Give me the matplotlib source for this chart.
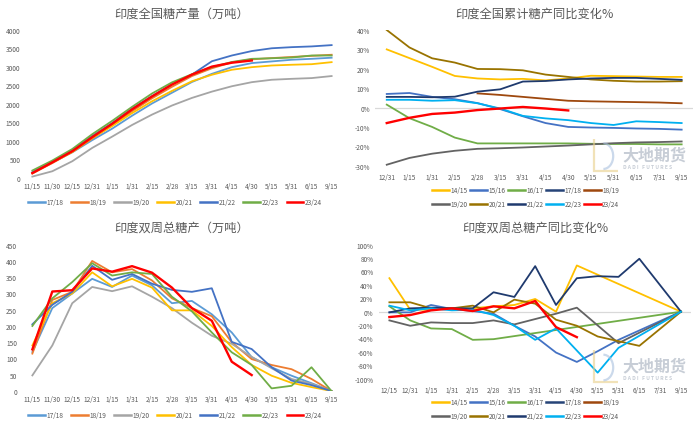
import numpy as np
import matplotlib
matplotlib.use('Agg')
import matplotlib.pyplot as plt
from matplotlib.ticker import FuncFormatter
from matplotlib.patches import Arc, Polygon

plt.rcParams['font.family'] = ['Noto Sans CJK SC', 'DejaVu Sans']

nan = np.nan

# ---- data: cumulative output (万吨) ----
cats_a = ['11/15', '11/30', '12/15', '12/31', '1/15', '1/31', '2/15', '2/28',
          '3/15', '3/31', '4/15', '4/30', '5/15', '5/31', '6/15', '9/15']
cum_17_18 = [150, 420, 690, 1020, 1330, 1680, 2010, 2300, 2590, 2810, 2990, 3100, 3145, 3190, 3215, 3245]
cum_18_19 = [120, 400, 700, 1060, 1420, 1800, 2150, 2460, 2750, 2960, 3120, 3200, 3235, 3265, 3295, 3325]
cum_19_20 = [36, 180, 450, 810, 1115, 1430, 1710, 1955, 2160, 2330, 2475, 2585, 2650, 2675, 2695, 2750]
cum_20_21 = [130, 420, 700, 1080, 1400, 1750, 2070, 2350, 2610, 2785, 2920, 2990, 3035, 3055, 3070, 3125]
cum_21_22 = [150, 430, 740, 1130, 1480, 1870, 2210, 2530, 2790, 3150, 3305, 3425, 3500, 3530, 3550, 3585]
cum_22_23 = [200, 470, 780, 1180, 1540, 1920, 2280, 2580, 2800, 2990, 3130, 3215, 3230, 3250, 3305, 3305]
cum_23_24 = [130, 420, 720, 1100, 1460, 1850, 2200, 2520, 2790, 3005, 3110, 3170]

# ---- data: cumulative YoY (%) ----
cats_b = ['12/31', '1/15', '1/31', '2/15', '2/28', '3/15', '3/31', '4/15', '4/30',
          '5/15', '5/31', '6/15', '7/31', '9/15']
yoy_14_15 = [30, 25.5, 21, 16.3, 15, 14.5, 14.8, 14, 15, 16.4, 16.2, 16, 15.8, 15.8]
yoy_15_16 = [7, 7.5, 5.5, 4.3, 2.3, -0.8, -4.5, -8, -10, -10.3, -10.5, -10.8, -11, -11.4]
yoy_16_17 = [1.5, -5.5, -10, -15.5, -18.5, -18.5, -18.5, -18.5, -18.5, -18.7, -18.8, -18.8, -19, -19]
yoy_17_18 = [nan] * 14
yoy_18_19 = [nan, nan, nan, nan, 7.3, 6.5, 5.5, 4.5, 3.5, 3.2, 3, 2.8, 2.6, 2.2]
yoy_19_20 = [-29.5, -26, -23.8, -22.3, -21.3, -21, -20.6, -20.1, -19.6, -19, -18.4, -18, -17.8, -17.5]
yoy_20_21 = [40, 31, 25.4, 23.2, 19.9, 19.8, 19.2, 17, 15.8, 14.5, 13.8, 13.4, 13.4, 13.6]
yoy_21_22 = [5.5, 5.5, 5.3, 5.6, 8.2, 9.4, 13.4, 13.7, 14.5, 15, 15.3, 15.3, 14.8, 14.3]
yoy_22_23 = [4, 4, 3.5, 3.8, 2.2, -0.5, -4.3, -5.6, -6.5, -8, -9, -7.1, -7.5, -8]
yoy_23_24 = [-8, -5.3, -3.3, -2.6, -1.3, -0.5, 0.3, -0.5, -1.5]

# ---- data: biweekly output (万吨) ----
bw_17_18 = [120, 255, 300, 345, 320, 355, 325, 270, 277, 236, 180, 104, 73, 47, 24, 0]
bw_18_19 = [115, 280, 305, 400, 365, 375, 340, 285, 255, 230, 150, 98, 80, 67, 37, 0]
bw_19_20 = [48, 140, 270, 320, 307, 322, 290, 255, 210, 170, 145, 105, 70, 37, 22, 0]
bw_20_21 = [140, 270, 300, 365, 322, 345, 318, 248, 248, 200, 135, 80, 47, 25, 12, 0]
bw_21_22 = [205, 265, 305, 385, 342, 360, 330, 311, 305, 316, 151, 129, 73, 32, 18, 0]
bw_22_23 = [200, 285, 335, 393, 355, 365, 360, 290, 245, 180, 119, 80, 8, 16, 73, 0]
bw_23_24 = [128, 306, 310, 377, 367, 384, 364, 318, 255, 216, 90, 49]

# ---- data: biweekly YoY (%) ----
cats_c = ['12/15', '12/31', '1/15', '1/31', '2/15', '2/28', '3/15', '3/31', '4/15',
          '4/30', '5/15', '5/31', '6/15', '7/31', '9/15']
bwy_14_15 = [50, 3, 3, 5, 5, 8, 10, 19, 0, 69, nan, nan, nan, nan, 0]
bwy_15_16 = [-1, -1, 10, 4, 1, -3, -21, -37, -61, -75, -59, -42, nan, nan, 0]
bwy_16_17 = [8, -13, -25, -26, -42, -41, nan, nan, nan, nan, nan, nan, nan, nan, 0]
bwy_17_18 = [nan] * 15
bwy_18_19 = [nan] * 15
bwy_19_20 = [-13, -21, -16, -17, -17, -13, -19, -11, -3, 6, nan, -47, nan, nan, 0]
bwy_20_21 = [14, 14, 5, 5, 9, -1, 18, 12, -12, -21, -37, -44, -51, nan, 0]
bwy_21_22 = [-1, 5, 6, 5, 5, 29, 22, 68, 10, 50, 53, 52, 79, nan, 0]
bwy_22_23 = [9, 2, 5, 2, 3, -5, -21, -42, -25, nan, -91, -54, nan, nan, 0]
bwy_23_24 = [-8, -5, 2, 5, 1, 8, 5, 16, -23, -38]

left_labels = ['17/18', '18/19', '19/20', '20/21', '21/22', '22/23', '23/24']
left_colors = ['#5B9BD5', '#ED7D31', '#A5A5A5', '#FFC000', '#4472C4', '#70AD47', '#FF0000']
right_labels = ['14/15', '15/16', '16/17', '17/18', '18/19',
                '19/20', '20/21', '21/22', '22/23', '23/24']
right_colors = ['#FFC000', '#4472C4', '#70AD47', '#264478', '#9E480E',
                '#636363', '#997300', '#1F3A6E', '#00B0F0', '#FF0000']

txt = '#595959'
fig = plt.figure(figsize=(7, 4.27), dpi=100)


def style(ax, cats, title, title_y, pad_y, pad_x):
    for s in ax.spines.values():
        s.set_visible(False)
    ax.set_xticks(range(len(cats)))
    ax.set_xticklabels(cats)
    ax.set_xlim(-0.5, len(cats) - 0.5)
    ax.tick_params(axis='both', length=0, labelsize=4.7, labelcolor=txt)
    ax.tick_params(axis='x', pad=pad_x)
    ax.tick_params(axis='y', pad=pad_y)
    bb = ax.get_position()
    fig.text((bb.x0 + bb.x1) / 2, title_y, title, ha='center', va='center',
             fontsize=8.8, color=txt)


def draw(ax, series, colors, labels):
    for vals, c, lab in zip(series, colors, labels):
        y = np.array(vals, dtype=float)
        x = np.arange(len(y))
        m = np.isfinite(y)
        lw = 1.7 if c == '#FF0000' else 1.3
        ax.plot(x[m], y[m], color=c, lw=lw, label=lab)


def legend(ax, ncol, nrow, xc, yc, colsp, lsp=0.9):
    h, l = ax.get_legend_handles_labels()
    # row-major order like the original
    order = [r * ncol + c for c in range(ncol) for r in range(nrow) if r * ncol + c < len(h)]
    leg = ax.legend([h[i] for i in order], [l[i] for i in order], loc='center',
                    bbox_to_anchor=(xc, yc), bbox_transform=fig.transFigure,
                    ncol=ncol, frameon=False, fontsize=4.7, handlelength=2.6,
                    handletextpad=0.2, columnspacing=colsp, labelspacing=lsp,
                    labelcolor=txt)
    for ln in leg.get_lines():
        ln.set_linewidth(1.8)


def watermark(x, y):
    fig.text(x, y, '大地期货', fontsize=11.5, color='#9AA5B5', alpha=0.55,
             ha='left', va='center', fontweight='bold')
    fig.text(x + 0.001, y - 0.029, 'D A D I   F U T U R E S', fontsize=3.6,
             color='#9AA5B5', alpha=0.55, ha='left', va='center', fontweight='bold')
    # simple logo mark
    fig.patches.append(Polygon([[x - 0.040, y + 0.035], [x - 0.040, y - 0.040],
                                [x - 0.006, y - 0.040]], closed=False, fill=False,
                               ec='#E8D08A', lw=1.6, alpha=0.6,
                               transform=fig.transFigure, figure=fig))
    fig.patches.append(Arc((x - 0.027, y - 0.005), 0.028, 0.06, theta1=-90, theta2=90,
                           ec='#A9C0DE', lw=1.6, alpha=0.6,
                           transform=fig.transFigure, figure=fig))


# top-left
ax1 = fig.add_axes([0.032, 0.581, 0.456, 0.347])
draw(ax1, [cum_17_18, cum_18_19, cum_19_20, cum_20_21, cum_21_22, cum_22_23, cum_23_24],
     left_colors, left_labels)
ax1.set_ylim(0, 4000)
ax1.set_yticks(range(0, 4001, 500))
style(ax1, cats_a, '印度全国糖产量（万吨）', 0.967, 1.5, 3)
legend(ax1, 7, 1, 0.25, 0.524, 1.2)

# top-right
ax2 = fig.add_axes([0.5363, 0.6096, 0.4537, 0.3178])
ax2.axhline(0, color='#D9D9D9', lw=0.9, zorder=0)
draw(ax2, [yoy_14_15, yoy_15_16, yoy_16_17, yoy_17_18, yoy_18_19, yoy_19_20,
           yoy_20_21, yoy_21_22, yoy_22_23, yoy_23_24], right_colors, right_labels)
ax2.set_ylim(-30, 40)
ax2.set_yticks(range(-30, 41, 10))
ax2.yaxis.set_major_formatter(FuncFormatter(lambda v, p: '%d%%' % v))
style(ax2, cats_b, '印度全国累计糖产同比变化%', 0.967, 4, 5)
legend(ax2, 5, 2, 0.751, 0.536, 0.4)
watermark(0.889, 0.637)

# bottom-left
ax3 = fig.add_axes([0.032, 0.082, 0.4557, 0.3426])
draw(ax3, [bw_17_18, bw_18_19, bw_19_20, bw_20_21, bw_21_22, bw_22_23, bw_23_24],
     left_colors, left_labels)
ax3.set_ylim(0, 450)
ax3.set_yticks(range(0, 451, 50))
style(ax3, cats_a, '印度双周总糖产（万吨）', 0.466, 4, 3)
legend(ax3, 7, 1, 0.25, 0.026, 1.2)

# bottom-right
ax4 = fig.add_axes([0.5414, 0.1108, 0.4463, 0.3138])
ax4.axhline(0, color='#D9D9D9', lw=0.9, zorder=0)
draw(ax4, [bwy_14_15, bwy_15_16, bwy_16_17, bwy_17_18, bwy_18_19, bwy_19_20,
           bwy_20_21, bwy_21_22, bwy_22_23, bwy_23_24], right_colors, right_labels)
ax4.set_ylim(-100, 100)
ax4.set_yticks(range(-100, 101, 20))
ax4.yaxis.set_major_formatter(FuncFormatter(lambda v, p: '%d%%' % v))
style(ax4, cats_c, '印度双周总糖产同比变化%', 0.466, 4, 5)
legend(ax4, 5, 2, 0.751, 0.040, 0.4)
watermark(0.889, 0.142)

plt.savefig('out.png', dpi=100)
